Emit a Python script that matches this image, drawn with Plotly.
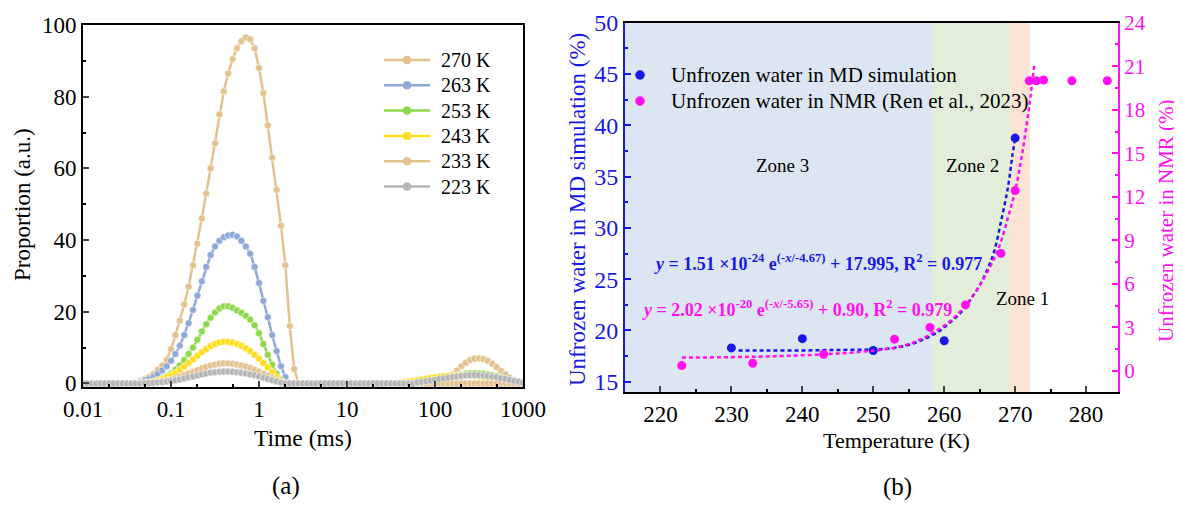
import plotly.graph_objects as go

# page body has an 8 px margin; map reference pixel positions into the figure
OFF = 8
W, H = 1182 - OFF, 506 - OFF
def px(x): return (x - OFF) / W
def py(y): return 1 - (y - OFF) / H

# ---------------- Panel (a) data ----------------
mantissa = [1.0, 1.122, 1.259, 1.413, 1.585, 1.778, 1.995, 2.239, 2.512, 2.818,
            3.162, 3.548, 3.981, 4.467, 5.012, 5.623, 6.310, 7.079, 7.943, 8.913]
decades = [0.01, 0.1, 1, 10, 100]
time_ms = [m * d for d in decades for m in mantissa] + [1000]

amp_270K = ([0] * 12 +
            [0.3, 0.7, 1.2, 1.8, 2.6, 3.8, 5.0, 6.6, 9.5, 13.5, 17.5, 22, 27, 33, 39, 46, 53, 60, 67,
             75, 81.5, 86.5, 90.5, 93.5, 95.5, 96.5, 96, 93.5, 88, 81, 72, 63, 54, 44, 33, 16, 4, 0] +
            [0] * 30 +
            [0.3, 0.6, 1.0, 1.7, 2.5, 3.6, 4.8, 5.8, 6.5, 6.9, 7.0, 6.8, 6.3, 5.5, 4.5, 3.5, 2.5, 1.6,
             0.9, 0.4, 0.1])
amp_263K = ([0] * 13 +
            [0.3, 0.7, 1.2, 1.8, 2.6, 3.6, 4.8, 6.3, 8.2, 10.5, 13.5, 16.8, 20.5, 24.5, 28.5, 32.5,
             35.8, 38.2, 39.8, 40.8, 41.3, 41.5, 41.0, 39.8, 38.2, 36.2, 32.5, 28, 23, 18.5, 13.5, 9,
             4.8, 1.8, 0] +
            [0] * 53)
amp_253K = ([0] * 15 +
            [0.2, 0.5, 0.9, 1.4, 2.0, 2.8, 3.8, 5.0, 6.5, 8.2, 10.0, 12.2, 14.5, 16.5, 18.3, 19.8,
             20.9, 21.5, 21.5, 21.1, 20.4, 19.7, 18.9, 17.8, 16.2, 14.0, 11.0, 8.0, 5.2, 2.8, 1.0, 0] +
            [0] * 31 +
            [0.3, 0.5, 0.8, 1.1, 1.4, 1.7, 2.0, 2.3, 2.5, 2.7, 2.8, 2.85, 2.8, 2.7, 2.5, 2.3, 2.0,
             1.7, 1.3, 0.9, 0.6, 0.3, 0.1])
amp_243K = ([0] * 14 +
            [0.1, 0.3, 0.5, 0.8, 1.2, 1.7, 2.3, 3.0, 3.8, 4.7, 5.7, 6.7, 7.7, 8.7, 9.6, 10.4, 11.0,
             11.4, 11.6, 11.6, 11.4, 11.0, 10.5, 9.8, 9.0, 8.0, 6.9, 5.7, 4.5, 3.2, 1.8, 0.5, 0] +
            [0] * 25 +
            [0.2, 0.35, 0.5, 0.7, 0.9, 1.1, 1.3, 1.5, 1.7, 1.85, 2.0, 2.1, 2.2, 2.25, 2.3, 2.3, 2.2,
             2.1, 2.0, 1.8, 1.6, 1.4, 1.2, 1.0, 0.8, 0.6, 0.4, 0.25, 0.1])
amp_233K = ([0] * 14 +
            [0.05, 0.15, 0.25, 0.4, 0.6, 0.8, 1.1, 1.45, 1.85, 2.3, 2.75, 3.2, 3.7, 4.2, 4.6, 5.0,
             5.3, 5.5, 5.6, 5.6, 5.5, 5.3, 5.0, 4.7, 4.3, 3.8, 3.3, 2.7, 2.1, 1.5, 0.9, 0.3, 0] +
            [0] * 54)
amp_223K = ([0] * 14 +
            [0.03, 0.1, 0.15, 0.25, 0.35, 0.5, 0.65, 0.85, 1.1, 1.35, 1.65, 1.9, 2.2, 2.5, 2.75, 3.0,
             3.15, 3.25, 3.3, 3.3, 3.25, 3.1, 2.95, 2.75, 2.5, 2.25, 1.95, 1.6, 1.25, 0.9, 0.55, 0.2, 0] +
            [0] * 29 +
            [0.3, 0.45, 0.6, 0.8, 1.0, 1.2, 1.4, 1.6, 1.8, 1.95, 2.1, 2.2, 2.3, 2.35, 2.3, 2.2, 2.1,
             1.9, 1.7, 1.45, 1.2, 0.95, 0.7, 0.45, 0.2])

series_names = ["270 K", "263 K", "253 K", "243 K", "233 K", "223 K"]
series_vals = [amp_270K, amp_263K, amp_253K, amp_243K, amp_233K, amp_223K]
series_colors = ["#E3C28E", "#8EA8D8", "#8FD74B", "#FFDD1F", "#E3C28E", "#B5B5B5"]
for v in series_vals:
    assert len(v) == len(time_ms), len(v)

# ---------------- Panel (b) data ----------------
md_temp = [230, 240, 250, 260, 270]
md_unfrozen = [18.3, 19.2, 18.05, 19.0, 38.75]
nmr_temp = [223, 233, 243, 253, 258, 263, 268, 270, 272, 273, 274, 278, 283]
nmr_unfrozen = [0.37, 0.53, 1.15, 2.19, 3.0, 4.55, 8.1, 12.43, 20.0, 20.0, 20.05, 20.0, 20.0]
md_fit_temp = [231, 235, 240, 245, 250, 253, 255, 257, 259, 260, 261, 262, 263, 264, 265, 266,
               267, 268, 269, 269.6, 270]
md_fit_val = [18.05, 18.05, 18.05, 18.1, 18.15, 18.3, 18.6, 19.1, 19.8, 20.3, 20.9, 21.5, 22.3,
              23.3, 24.4, 25.8, 27.6, 30.6, 34.0, 37.0, 38.7]
nmr_fit_temp = [223, 230, 235, 240, 245, 250, 253, 255, 257, 259, 261, 263, 265, 267, 268, 269,
                270, 271, 272, 272.7]
nmr_fit_val = [0.92, 0.95, 1.0, 1.08, 1.2, 1.4, 1.6, 1.85, 2.25, 2.8, 3.5, 4.5, 5.9, 7.7, 8.9,
               10.6, 12.4, 15.0, 18.3, 21.1]
zone_edges = [215, 258.3, 269.3, 272.1]
zone_colors = ["#DCE6F2", "#E2EEDA", "#FBE3D6"]
legend_b_names = ["Unfrozen water in MD simulation", "Unfrozen water in NMR (Ren et al., 2023)"]

BLUE = "#1818E6"
MAG = "#FF10F0"
SERIF = "Liberation Serif, Times New Roman, serif"

fig = go.Figure()

for name, vals, col in zip(series_names, series_vals, series_colors):
    fig.add_trace(go.Scatter(
        x=time_ms, y=vals, name=name, mode="lines+markers", showlegend=False,
        line=dict(color=col, width=2.5),
        marker=dict(size=7, color=col, line=dict(color="rgba(255,255,255,0.55)", width=1)),
        xaxis="x", yaxis="y"))

# fits
fig.add_trace(go.Scatter(x=md_fit_temp, y=md_fit_val, mode="lines", showlegend=False,
                         line=dict(color=BLUE, width=2.5, dash="4px,3px", shape="spline"),
                         xaxis="x2", yaxis="y2"))
fig.add_trace(go.Scatter(x=nmr_fit_temp, y=nmr_fit_val, mode="lines", showlegend=False,
                         line=dict(color=MAG, width=2.5, dash="4px,3px", shape="spline"),
                         xaxis="x2", yaxis="y3"))
fig.add_trace(go.Scatter(x=md_temp, y=md_unfrozen, mode="markers", name=legend_b_names[0],
                         showlegend=False, marker=dict(size=9, color=BLUE), xaxis="x2", yaxis="y2"))
fig.add_trace(go.Scatter(x=nmr_temp, y=nmr_unfrozen, mode="markers", name=legend_b_names[1],
                         showlegend=False, marker=dict(size=9, color=MAG), xaxis="x2", yaxis="y3"))

shapes = []
for i, c in enumerate(zone_colors):
    shapes.append(dict(type="rect", xref="x2", yref="y2 domain", x0=zone_edges[i], x1=zone_edges[i + 1],
                       y0=0, y1=1, fillcolor=c, line=dict(width=0), layer="below"))

ann = []
def add(text, x, y, size, color="black", angle=0, xanchor="center"):
    ann.append(dict(text=text, x=px(x), y=py(y), xref="paper", yref="paper", showarrow=False,
                    xanchor=xanchor, yanchor="middle", textangle=angle,
                    font=dict(family=SERIF, size=size, color=color)))

def circle(cx, cy, r, color):
    shapes.append(dict(type="circle", xref="paper", yref="paper",
                       x0=px(cx - r), x1=px(cx + r), y0=py(cy + r), y1=py(cy - r),
                       fillcolor=color, line=dict(color=color, width=0.5), layer="above"))

# legend (a) drawn by hand
for i, (name, col) in enumerate(zip(series_names, series_colors)):
    yy = 60 + 25.3 * i
    shapes.append(dict(type="line", xref="paper", yref="paper", x0=px(384), x1=px(430),
                       y0=py(yy), y1=py(yy), line=dict(color=col, width=2.5), layer="above"))
    circle(407, yy, 4, col)
    add(name, 439, yy, 20, xanchor="left")

# legend (b) drawn by hand
for i, (name, col) in enumerate(zip(legend_b_names, [BLUE, MAG])):
    yy = 75 + 26 * i
    circle(640, yy, 4.5, col)
    add(name, 669, yy, 21, xanchor="left")

tickfont = dict(family=SERIF, size=23, color="black")
fig.update_layout(
    width=W, height=H, margin=dict(l=0, r=0, t=0, b=0, autoexpand=False),
    paper_bgcolor="white", plot_bgcolor="white", showlegend=False,
    font=dict(family=SERIF, color="black"),
    xaxis=dict(domain=[px(83), px(523)], anchor="y", type="log", range=[-2, 3],
               tickvals=[0.01, 0.1, 1, 10, 100, 1000], ticktext=["0.01", "0.1", "1", "10", "100", "1000"],
               ticks="inside", ticklen=6, tickwidth=2, showline=True, linewidth=2, linecolor="black",
               mirror=True, showgrid=False, zeroline=False, tickfont=tickfont, automargin=False,
               minor=dict(ticks="inside", ticklen=3, tickwidth=1.5, tickcolor="black", showgrid=False)),
    yaxis=dict(domain=[py(387), py(25)], anchor="x", range=[-1, 100], dtick=20,
               ticks="inside", ticklen=6, tickwidth=2, showline=True, linewidth=2, linecolor="black",
               mirror=True, showgrid=False, zeroline=False, tickfont=tickfont, automargin=False,
               minor=dict(dtick=10, ticks="inside", ticklen=3, tickwidth=1.5, tickcolor="black", showgrid=False)),
    xaxis2=dict(domain=[px(625), px(1118)], anchor="y2", range=[215, 284.5], dtick=10,
                ticks="inside", ticklen=6, tickwidth=2, showline=True, linewidth=2, linecolor="black",
                mirror=True, showgrid=False, zeroline=False, automargin=False,
                tickfont=dict(family=SERIF, size=23, color="black"),
                minor=dict(dtick=5, ticks="inside", ticklen=3, tickwidth=1.5, tickcolor="black", showgrid=False)),
    yaxis2=dict(domain=[py(392), py(22.7)], anchor="x2", range=[14, 50], dtick=5,
                ticks="inside", ticklen=6, tickwidth=2, tickcolor=BLUE, showline=True, linewidth=2,
                linecolor=BLUE, showgrid=False, zeroline=False, automargin=False,
                tickfont=dict(family=SERIF, size=24, color=BLUE),
                minor=dict(dtick=2.5, ticks="inside", ticklen=3, tickwidth=1.5, tickcolor=BLUE, showgrid=False)),
    yaxis3=dict(domain=[py(392), py(22.7)], anchor="x2", overlaying="y2", side="right",
                range=[-1.45, 24], dtick=3, automargin=False,
                ticks="inside", ticklen=6, tickwidth=2, tickcolor=MAG, showline=True, linewidth=2,
                linecolor=MAG, showgrid=False, zeroline=False,
                tickfont=dict(family=SERIF, size=21, color=MAG),
                minor=dict(dtick=1.5, ticks="inside", ticklen=3, tickwidth=1.5, tickcolor=MAG, showgrid=False)),
)

add("Proportion (a.u.)", 22, 205, 23, angle=-90)
add("Time (ms)", 303, 438, 23.5)
add("(a)", 286, 486, 25)
add("Unfrozen water in MD simulation (%)", 578, 210, 23, color=BLUE, angle=-90)
add("Unfrozen water in NMR (%)", 1166, 221, 21, color=MAG, angle=-90)
add("Temperature (K)", 896, 440, 22)
add("(b)", 897, 487, 25)
add("Zone 3", 782, 166, 19)
add("Zone 2", 972, 166, 19)
add("Zone 1", 1022, 298, 19)
add("<b><i>y</i> = 1.51 ×10<sup>-24</sup> e<sup>(-<i>x</i>/-4.67)</sup> + 17.995, R<sup>2</sup> = 0.977</b>",
    652, 262, 18, color=BLUE, xanchor="left")
add("<b><i>y</i> = 2.02 ×10<sup>-20</sup> e<sup>(-<i>x</i>/-5.65)</sup> + 0.90, R<sup>2</sup> = 0.979</b>",
    640, 308, 18, color=MAG, xanchor="left")
fig.update_layout(annotations=ann, shapes=shapes)

fig.write_html("out.html")
